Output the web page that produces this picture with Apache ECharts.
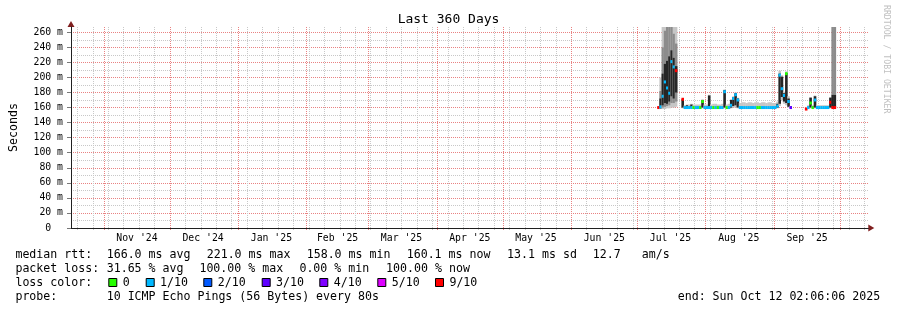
<!DOCTYPE html>
<html><head><meta charset="utf-8">
<script src="https://cdn.jsdelivr.net/npm/echarts@6/dist/echarts.min.js"></script>
<style>html,body{margin:0;padding:0;background:#fff}#c{width:897px;height:310px}</style>
</head><body><div id="c"></div>
<script>
// ---------- data ----------
const endTime = '2025-10-12T02:06:06Z';
const spanDays = 360;
const firstDay = '2025-07-10';           // first day of the per-day arrays below
// median rtt (ms) per day, null = no data
const median = [
 160,161,175,194,186,179,221,214,209,null,      // Jul10-Jul19
 null,171,160,160,160,160,160,160,160,160,      // Jul20-Jul29
 168,160,160,160,160,160,160,160,160,160,       // Jul30-Aug08
 181,160,160,163,172,177,170,160,160,160,       // Aug09-Aug18
 160,160,160,160,160,160,160,160,160,160,       // Aug19-Aug28
 160,160,160,160,162,203,185,176,205,168,       // Aug29-Sep07
 160,null,null,null,null,null,null,158,160,166, // Sep08-Sep17
 160,170,160,160,160,160,160,160,167,160,       // Sep18-Sep27
 160];                                          // Sep28
// lost pings out of 10
const lossCount = [
 9,1,1,1,1,1,1,1,9,null,
 null,9,1,1,1,1,0,1,1,0,
 0,1,1,1,1,0,1,0,1,1,
 1,0,1,1,1,1,1,1,1,1,
 1,1,1,1,1,0,0,1,1,1,
 1,1,1,1,1,1,1,1,0,1,
 3,null,null,null,null,null,null,9,1,0,
 0,1,1,1,1,1,1,1,9,9,
 9];
// outer (light) smoke band
const smokeLo = [
 null,158,158,158,159,159,160,160,161,null,
 null,159,159,159,159,159,159,159,159,159,
 159,159,159,159,159,159,159,159,159,159,
 159,159,159,159,160,160,159,159,159,159,
 159,159,159,159,159,159,159,159,159,159,
 159,159,159,159,159,162,170,165,163,160,
 159,null,null,null,null,null,null,157,159,159,
 159,159,159,159,159,159,159,159,159,null,
 null];
const smokeHi = [
 null,200,267,267,267,267,267,267,267,null,
 null,172,163,164,164,165,164,164,164,164,
 171,164,164,177,164,165,165,164,164,165,
 184,164,165,171,175,180,173,166,167,167,
 166,167,167,166,167,167,166,167,167,166,
 167,167,166,166,168,209,203,181,208,175,
 162,null,null,null,null,null,null,160,163,174,
 163,176,163,163,163,163,163,163,174,null,
 null];
// middle (medium grey) smoke band
const midLo = [
 null,159,160,161,162,163,166,166,168,null,
 null,null,null,null,null,null,null,null,null,null,
 null,null,null,null,null,null,null,null,null,null,
 null,null,null,null,null,null,null,null,null,null,
 null,null,null,null,null,null,null,null,null,null,
 null,null,null,null,null,null,null,null,null,null,
 null,null,null,null,null,null,null,null,null,null,
 null,null,null,null,null,null,null,null,null,177,
 177];
const midHi = [
 null,182,240,262,267,267,267,258,245,null,
 null,null,null,null,null,null,null,null,null,null,
 null,null,null,null,null,null,null,null,null,null,
 null,null,null,null,null,null,null,null,null,null,
 null,null,null,null,null,null,null,null,null,null,
 null,null,null,null,null,null,null,null,null,null,
 null,null,null,null,null,null,null,null,null,null,
 null,null,null,null,null,null,null,null,null,267,
 267];
// dark core smoke band
const coreLo = [
 null,159,163,166,165,168,175,172,180,null,
 null,160,null,160,null,160,null,null,null,null,
 160,null,null,160,null,null,null,null,null,null,
 160,null,null,160,162,163,160,null,null,null,
 null,null,null,null,null,null,null,null,null,null,
 null,null,null,null,160,165,174,168,166,161,
 null,null,null,null,null,null,null,null,null,160,
 null,160,null,null,null,null,null,null,160,160,
 160];
const coreHi = [
 null,172,205,218,222,228,236,226,215,null,
 null,171,null,163,null,164,null,null,null,null,
 170,null,null,176,null,null,null,null,null,null,
 183,null,null,170,174,179,172,null,null,null,
 null,null,null,null,null,null,null,null,null,null,
 null,null,null,null,165,205,201,179,206,172,
 null,null,null,null,null,null,null,null,null,173,
 null,175,null,null,null,null,null,null,173,177,
 177];

const lossLevels = [0, 1, 2, 3, 4, 5, 9];
const lossLabels = ['0', '1/10', '2/10', '3/10', '4/10', '5/10', '9/10'];
const lossColorList = ['#26ff00', '#00b8ff', '#0059ff', '#5e00ff', '#7e00ff', '#dd00ff', '#ff0000'];

const monthLabels = ["Nov '24","Dec '24","Jan '25","Feb '25","Mar '25","Apr '25","May '25","Jun '25","Jul '25","Aug '25","Sep '25"];
const monthLabelDates = ['2024-11-16','2024-12-16','2025-01-16','2025-02-15','2025-03-16','2025-04-16','2025-05-16','2025-06-16','2025-07-16','2025-08-16','2025-09-16'];
const monthStarts = ['2024-11-01','2024-12-01','2025-01-01','2025-02-01','2025-03-01','2025-04-01','2025-05-01','2025-06-01','2025-07-01','2025-08-01','2025-09-01','2025-10-01'];
const firstWeekLine = '2024-10-20';
const yLabelValues = [0,20,40,60,80,100,120,140,160,180,200,220,240,260];
const yMinorValues = [10,30,50,70,90,110,130,150,170,190,210,230,250];
const yMax = 267;

const statsMedian = ['median rtt:', '166.0 ms avg', '221.0 ms max', '158.0 ms min', '160.1 ms now', '13.1 ms sd', '12.7', 'am/s'];
const statsLoss = ['packet loss:', '31.65 % avg', '100.00 % max', '0.00 % min', '100.00 % now'];
const probeText = ['probe:', '10 ICMP Echo Pings (56 Bytes) every 80s', 'end: Sun Oct 12 02:06:06 2025'];

// ---------- build ----------
const DAY = 86400000;
const FONT = '"DejaVu Sans Mono", monospace';
const endT = Date.parse(endTime);
const minT = endT - spanDays * DAY;
const axisOverhangDays = 1.67;   // axis line runs a little past the end, up to the arrow
const maxT = endT + axisOverhangDays * DAY;
const d0 = Date.parse(firstDay + 'T00:00:00Z');
const utc = s => Date.parse(s + 'T00:00:00Z');

const data = [];
median.forEach((m, i) => {
  if (m == null) return;
  data.push([d0 + i * DAY, m, lossCount[i], smokeLo[i], smokeHi[i], midLo[i], midHi[i], coreLo[i], coreHi[i]]);
});
const weekTicks = [];
for (let t = utc(firstWeekLine); t <= endT; t += 7 * DAY) weekTicks.push(t);
const monthTicks = monthStarts.map(utc);
const labelTicks = monthLabelDates.map(utc);

const SMOKE = ['#c6c6c6', '#8c8c8c', '#262626'];
function lossColor(n) {
  const i = lossLevels.indexOf(n);
  return lossColorList[i < 0 ? lossColorList.length - 1 : i];
}
function renderItem(params, api) {
  const t = api.value(0);
  const w = api.size([DAY, 0])[0] + 0.35;
  const kids = [];
  const band = (lo, hi, color) => {
    if (lo == null || hi == null || isNaN(lo) || isNaN(hi)) return;
    const a = api.coord([t, hi]), b = api.coord([t, lo]);
    kids.push({ type: 'rect', shape: { x: a[0], y: a[1], width: w, height: Math.max(1, b[1] - a[1]) }, style: { fill: color } });
  };
  band(api.value(3), api.value(4), SMOKE[0]);
  band(api.value(5), api.value(6), SMOKE[1]);
  band(api.value(7), api.value(8), SMOKE[2]);
  const m = api.coord([t, api.value(1)]);
  kids.push({ type: 'rect', shape: { x: m[0], y: m[1] - 1.5, width: w, height: 3 }, style: { fill: lossColor(api.value(2)) } });
  return { type: 'group', children: kids };
}

const GRID_TOP = 27, GRID_BOTTOM = 82, GRID_LEFT = 67, GRID_RIGHT = 28.7;
const plotH = 310 - GRID_TOP - GRID_BOTTOM;
const plotW = 797.6;
const minorCol = '#c8c8c8', majorCol = '#e98282';
const tickBelow = 2;

const gridAxisX = (ticks, color) => ({
  type: 'value', min: minT, max: maxT, position: 'bottom', offset: tickBelow, z: 0,
  axisLine: { show: false, onZero: false }, axisLabel: { show: false }, splitLine: { show: false },
  axisTick: { show: true, inside: true, length: plotH + tickBelow, customValues: ticks, lineStyle: { color, width: 1, type: [1, 1] } }
});
const gridAxisY = (ticks, color) => ({
  type: 'value', min: 0, max: yMax, position: 'left', z: 0,
  axisLine: { show: false, onZero: false }, axisLabel: { show: false }, splitLine: { show: false },
  axisTick: { show: true, inside: true, length: plotW, customValues: ticks, lineStyle: { color, width: 1, type: [1, 1] } }
});

// text / legend decorations
const graphics = [];
const txt = (x, y, s, extra) => graphics.push(Object.assign({ type: 'text', x, y, silent: true,
  style: { text: s, fontFamily: FONT, fontSize: 11.6, fill: '#000', verticalAlign: 'middle', align: 'left' } }, extra || {}));
const medX = [16, 107.3, 207.3, 307.3, 407.3, 507.7, 593.3, 642.3];
statsMedian.forEach((s, i) => txt(medX[i] - 0.6, 254.5, s));
const lossX = [16, 107.3, 200, 300, 386.7];
statsLoss.forEach((s, i) => txt(lossX[i] - 0.6, 268.5, s));
txt(15.4, 282.5, 'loss color:');
const swX = [108.3, 145.7, 203.3, 261.7, 319.3, 377.3, 435];
lossLabels.forEach((s, i) => {
  graphics.push({ type: 'rect', silent: true, shape: { x: swX[i] + 0.5, y: 278.5, width: 8, height: 8 },
    style: { fill: lossColorList[i], stroke: '#000', lineWidth: 1 } });
  txt(swX[i] + 14.4, 282.5, s);
});
const probeX = [16, 107.3, 678.3];
probeText.forEach((s, i) => txt(probeX[i] - 0.6, 296.5, s));
graphics.push({ type: 'text', x: 886, y: 5, rotation: -Math.PI / 2, silent: true,
  style: { text: 'RRDTOOL / TOBI OETIKER', fontFamily: FONT, fontSize: 8.2, fill: '#c0c0c0', verticalAlign: 'middle', align: 'left' } });

const chart = echarts.init(document.getElementById('c'), null, { renderer: 'canvas' });
chart.setOption({
  animation: false,
  backgroundColor: '#ffffff',
  title: { text: 'Last 360 Days', left: 'center', top: 8,
    textStyle: { fontFamily: FONT, fontSize: 13, fontWeight: 'normal', color: '#000' } },
  grid: { left: GRID_LEFT, right: GRID_RIGHT, top: GRID_TOP, bottom: GRID_BOTTOM, containLabel: false },
  xAxis: [
    { // data axis with month labels
      type: 'value', min: minT, max: maxT, position: 'bottom', z: 6,
      axisLine: { show: true, onZero: false, lineStyle: { color: '#1f1f1f', width: 1 } },
      axisTick: { show: false },
      splitLine: { show: false },
      axisLabel: { show: true, customValues: labelTicks, margin: 5, fontFamily: FONT, fontSize: 9.8, color: '#000',
        formatter: v => { const i = labelTicks.indexOf(v); return i < 0 ? '' : monthLabels[i]; } }
    },
    gridAxisX(weekTicks, minorCol),
    gridAxisX(monthTicks, majorCol),
    { // arrow
      type: 'value', min: minT, max: maxT, position: 'bottom', z: 5,
      axisLine: { show: true, onZero: false, symbol: ['none', 'triangle'], symbolSize: [7, 6], symbolOffset: [0, 3],
        lineStyle: { color: '#801f1f', width: 1 } },
      axisTick: { show: false }, axisLabel: { show: false }, splitLine: { show: false }
    }
  ],
  yAxis: [
    {
      type: 'value', min: 0, max: yMax, position: 'left', z: 6,
      name: 'Seconds', nameLocation: 'middle', nameGap: 51, nameRotate: 90,
      nameTextStyle: { fontFamily: FONT, fontSize: 11.6, color: '#000' },
      axisLine: { show: true, onZero: false, lineStyle: { color: '#1f1f1f', width: 1 } },
      axisTick: { show: true, length: 4, customValues: yLabelValues, lineStyle: { color: '#777' } },
      splitLine: { show: false },
      axisLabel: { show: true, customValues: yLabelValues, margin: 8, fontFamily: FONT, fontSize: 9.8, color: '#000',
        formatter: v => v === 0 ? '0  ' : v + ' m' }
    },
    gridAxisY(yMinorValues, minorCol),
    gridAxisY(yLabelValues.filter(v => v > 0), majorCol),
    {
      type: 'value', min: 0, max: yMax, position: 'left', z: 5,
      axisLine: { show: true, onZero: false, symbol: ['none', 'triangle'], symbolSize: [7, 6], symbolOffset: [0, 3],
        lineStyle: { color: '#801f1f', width: 1 } },
      axisTick: { show: false }, axisLabel: { show: false }, splitLine: { show: false }
    }
  ],
  series: [{
    type: 'custom', xAxisIndex: 0, yAxisIndex: 0, z: 3,
    renderItem, data, encode: { x: 0, y: 1 }
  }],
  graphic: graphics
});
</script>
</body></html>
